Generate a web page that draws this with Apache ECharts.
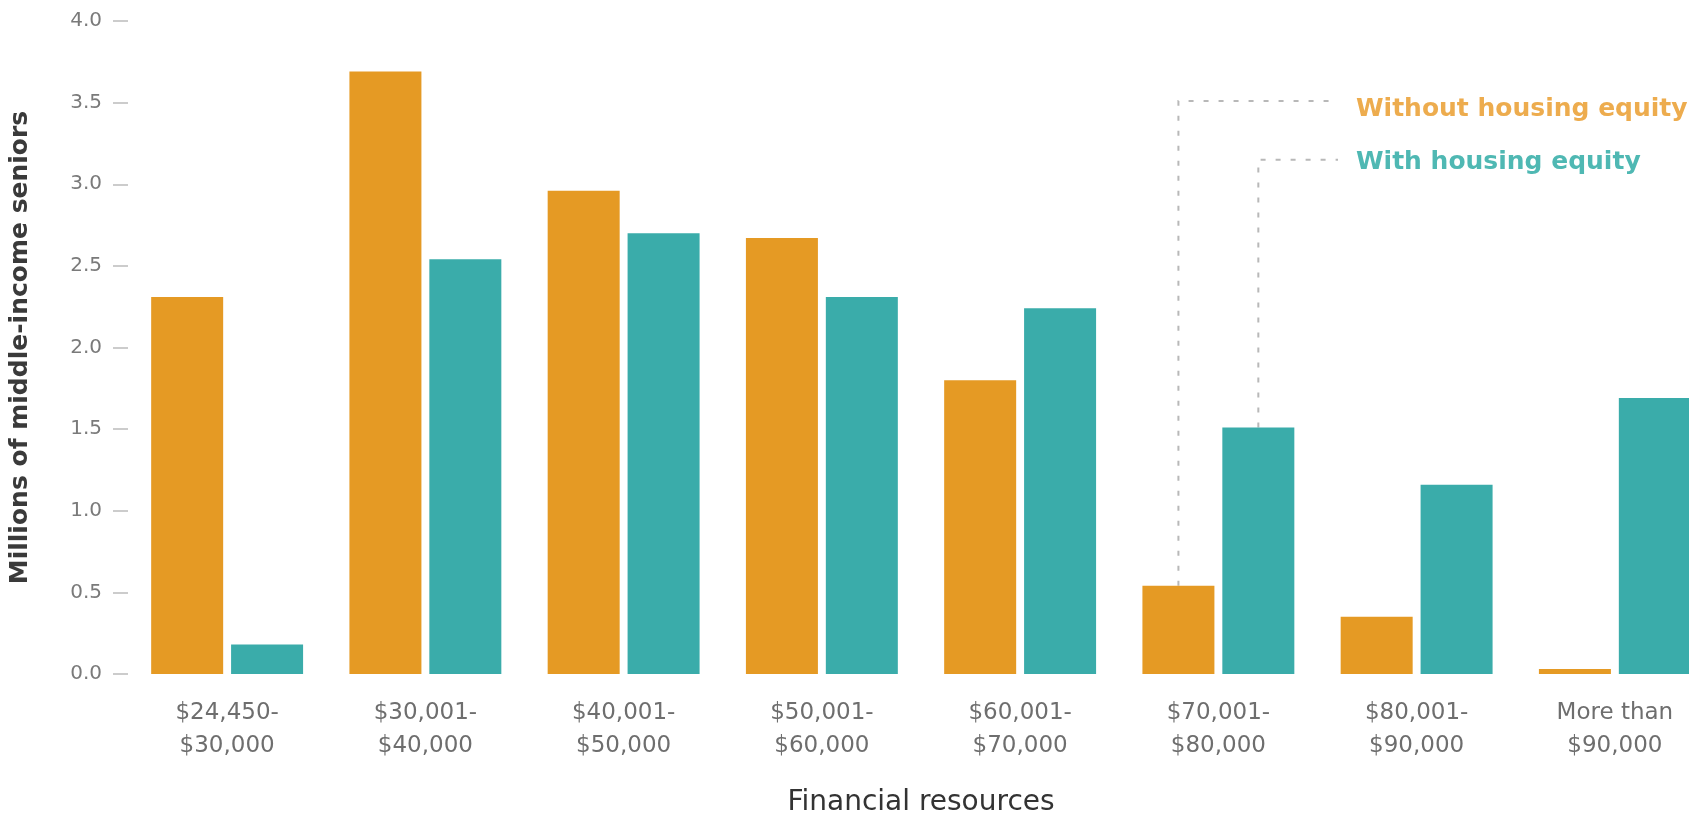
<!DOCTYPE html>
<html>
<head>
<meta charset="utf-8">
<script src="https://cdn.jsdelivr.net/npm/echarts@6/dist/echarts.min.js"></script>
<style>
  html, body { margin: 0; padding: 0; background: #fff; overflow: hidden; }
  #wrap { width: 1689px; height: 822px; overflow: hidden; }
  #chart { width: 1714px; height: 822px; }
</style>
</head>
<body>
<div id="wrap"><div id="chart"></div></div>
<script>
const categories = [
  "$24,450-\n$30,000", "$30,001-\n$40,000", "$40,001-\n$50,000", "$50,001-\n$60,000",
  "$60,001-\n$70,000", "$70,001-\n$80,000", "$80,001-\n$90,000", "More than\n$90,000"
];
const withoutEquity = [2.31, 3.69, 2.96, 2.67, 1.80, 0.54, 0.35, 0.03];
const withEquity    = [0.18, 2.54, 2.70, 2.31, 2.24, 1.51, 1.16, 1.69];
const seriesNames = ["Without housing equity", "With housing equity"];
const yTicks = [0, 0.5, 1.0, 1.5, 2.0, 2.5, 3.0, 3.5, 4.0];
// annotation: which bar each label points to, and the value level of its leader line
const annotationCategory = 5;
const annotationLevels = [3.51, 3.15];

const ORANGE = "#E59A24";
const TEAL = "#3AACAA";
const FONT = "DejaVu Sans";

const chart = echarts.init(document.getElementById("chart"), null, { renderer: "canvas" });

const option = {
  animation: false,
  backgroundColor: "#ffffff",
  grid: { left: 122, right: 0, top: 21, bottom: 147, containLabel: false },
  xAxis: {
    type: "category",
    data: categories,
    axisLine: { show: false },
    axisTick: { show: false },
    axisLabel: {
      color: "#6e6e6e", fontFamily: FONT, fontSize: 23, lineHeight: 33, margin: 23, interval: 0
    },
    name: "Financial resources",
    nameLocation: "middle",
    nameGap: 115,
    nameTextStyle: { color: "#333", fontFamily: FONT, fontSize: 28 }
  },
  yAxis: {
    type: "value",
    min: yTicks[0],
    max: yTicks[yTicks.length - 1],
    interval: 0.5,
    axisLine: { show: false },
    axisTick: { show: true, length: 15, lineStyle: { color: "#cccccc", width: 2 } },
    splitLine: { show: false },
    axisLabel: {
      color: "#7a7a7a", fontFamily: FONT, fontSize: 20, margin: 26,
      formatter: v => v.toFixed(1)
    },
    name: "Millions of middle-income seniors",
    nameLocation: "middle",
    nameGap: 95,
    nameTextStyle: { color: "#3a3a3a", fontFamily: FONT, fontSize: 25, fontWeight: "bold" }
  },
  series: [
    {
      name: seriesNames[0], type: "bar", data: withoutEquity,
      itemStyle: { color: ORANGE },
      barWidth: 72, barGap: "11%"
    },
    {
      name: seriesNames[1], type: "bar", data: withEquity,
      itemStyle: { color: TEAL },
      barWidth: 72, barGap: "11%"
    }
  ]
};
chart.setOption(option);

function drawAnnotations() {
  const colors = ["#EDAC4E", "#4FB8B3"];
  const textOffsets = [9, 3];
  const textX = 1356;
  const graphics = [];
  [0, 1].forEach(si => {
    const data = chart.getModel().getSeriesByIndex(si).getData();
    const lay = data.getItemLayout(annotationCategory);
    const cx = lay.x + lay.width / 2;
    const top = Math.min(lay.y, lay.y + lay.height);
    const ly = chart.convertToPixel({ yAxisIndex: 0 }, annotationLevels[si]);
    graphics.push({
      type: "polyline",
      shape: { points: [[cx, top], [cx, ly], [textX - 18, ly]] },
      style: { stroke: "#b8b8b8", lineWidth: 2, lineDash: [5, 10], fill: null },
      silent: true
    });
    graphics.push({
      type: "text",
      x: textX, y: ly + textOffsets[si],
      style: {
        text: seriesNames[si], fill: colors[si], font: "bold 25px '" + FONT + "'",
        verticalAlign: "middle"
      },
      silent: true
    });
  });
  chart.setOption({ graphic: graphics });
}
drawAnnotations();
</script>
</body>
</html>
